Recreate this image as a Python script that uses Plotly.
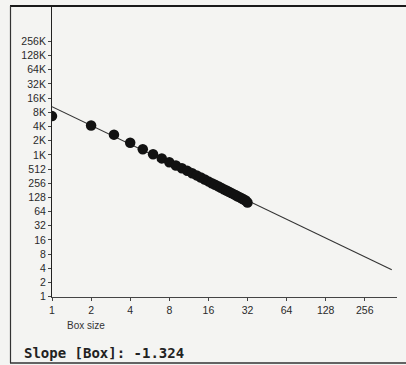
import math
import plotly.graph_objects as go

# ---- data ----
box_size = list(range(1, 33))
box_count = [6800, 4300, 2750, 1850, 1350, 1050, 860, 714, 609, 530, 468, 416,
             375, 338, 307, 280, 256, 237, 220, 205, 191, 180, 169, 159, 150,
             142, 134, 128, 121, 115, 110, 100]
fit_slope = -1.324
fit_intercept = 10800
fit_x = [1, 413]

x_ticks = [1, 2, 4, 8, 16, 32, 64, 128, 256]
x_tick_text = ["1", "2", "4", "8", "16", "32", "64", "128", "256"]
y_ticks = [2 ** i for i in range(19)]
y_tick_text = ["1", "2", "4", "8", "16", "32", "64", "128", "256", "512",
               "1K", "2K", "4K", "8K", "16K", "32K", "64K", "128K", "256K"]

fit_y = [fit_intercept * xv ** fit_slope for xv in fit_x]

W, H = 406, 365
L, R, T, B = 52, 9, 6, 68
pw, ph = W - L - R, H - T - B


def px(xp):
    return (xp - L) / pw


def py(yp):
    return (H - B - yp) / ph


fig = go.Figure()
fig.add_trace(go.Scatter(x=fit_x, y=fit_y, mode="lines",
                         line=dict(color="#333333", width=1.1), hoverinfo="skip"))
fig.add_trace(go.Scatter(x=box_size, y=box_count, mode="markers",
                         marker=dict(color="#111111", size=10.5, line=dict(width=0))))

tickfont = dict(family="Liberation Sans, Arial, sans-serif", size=10.5, color="#2a2a2a")

fig.update_xaxes(type="log", range=[0, math.log10(2) * pw / 39.1],
                 tickvals=x_ticks, ticktext=x_tick_text, showgrid=False,
                 zeroline=False, showline=True, linecolor="#444444", linewidth=1,
                 ticks="outside", ticklen=3, tickcolor="#444444", tickfont=tickfont)
fig.update_yaxes(type="log", range=[math.log10(0.985), math.log10(2) * ph / 14.2],
                 tickvals=y_ticks, ticktext=y_tick_text, showgrid=False,
                 zeroline=False, showline=True, linecolor="#222222", linewidth=1,
                 ticks="outside", ticklen=3, tickcolor="#444444", tickfont=tickfont)

shapes = [
    dict(type="line", xref="paper", yref="paper", x0=px(10), x1=px(406), y0=py(6), y1=py(6),
         line=dict(color="#1a1a1a", width=2)),
    dict(type="line", xref="paper", yref="paper", x0=px(10.5), x1=px(10.5), y0=py(6), y1=py(363),
         line=dict(color="#333333", width=1.2)),
    dict(type="line", xref="paper", yref="paper", x0=px(10), x1=px(406), y0=py(363), y1=py(363),
         line=dict(color="#333333", width=1.5)),
]

annotations = [
    dict(text="Box size", xref="paper", yref="paper", x=px(86), y=py(325),
         xanchor="center", yanchor="middle", showarrow=False,
         font=dict(family="Liberation Sans, Arial, sans-serif", size=10, color="#333333")),
    dict(text="<b>Slope [Box]: -1.324</b>", xref="paper", yref="paper", x=px(22), y=py(353),
         xanchor="left", yanchor="middle", showarrow=False,
         font=dict(family="DejaVu Sans Mono, monospace", size=14, color="#222222")),
]

fig.update_layout(width=W, height=H, margin=dict(l=L, r=R, t=T, b=B),
                  paper_bgcolor="#f4f4f2", plot_bgcolor="#f4f4f2",
                  showlegend=False, shapes=shapes, annotations=annotations)

fig.write_html("out.html", config={"displayModeBar": False},
               post_script="document.body.style.margin='0px';document.body.style.overflow='hidden';")
